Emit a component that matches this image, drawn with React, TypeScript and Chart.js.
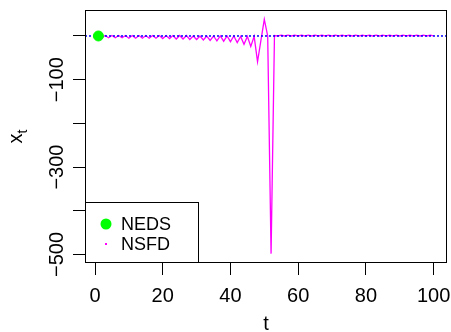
import React, { useEffect, useRef } from 'react';
import { Chart, registerables } from 'chart.js';

Chart.register(...registerables);

// time index (categories)
const tValues: number[] = Array.from({ length: 100 }, (_, i) => i + 1);

// NSFD trajectory
const nsfdValues: number[] = [
  0, -4, 1, -4, 1, -4, 1, -4, 1, -5,
  1, -5, 1, -5, 1, -5, 1, -5, 1, -6,
  1, -6, 1, -7, 1, -7, 1, -8, 0, -8,
  0, -9, 0, -10, 0, -11, 0, -12, 0, -13,
  0, -15, -1, -19, -1, -24, -1, -59, -10, 38,
  0, -498, 1, 0, 2, 0, 2, 0, 2, 0,
  2, 0, 2, 0, 2, 0, 2, 0, 2, 0,
  2, 0, 2, 0, 2, 0, 2, 0, 2, 0,
  2, 0, 2, 0, 2, 0, 2, 0, 2, 0,
  2, 0, 2, 0, 2, 0, 2, 0, 2, 0,
];

// NEDS point
const nedsT: number[] = [1];
const nedsValues: number[] = [0];

// equilibrium reference line
const equilibrium = 0;

const xLimits: number[] = [-2.96, 103.96];
const yLimits: number[] = [-519.44, 59.44];
const xTicks: number[] = [0, 20, 40, 60, 80, 100];
const xTickLabels: string[] = ['0', '20', '40', '60', '80', '100'];
const yTicks: number[] = [0, -100, -200, -300, -400, -500];
const yTickLabels: string[] = ['', '−100', '', '−300', '', '−500'];
const seriesLabels: string[] = ['NEDS', 'NSFD'];
const xTitle = 't';
const yTitleMain = 'x';
const yTitleSub = 't';

const FONT = '"Liberation Sans", Arial, Helvetica, sans-serif';

const decorPlugin = {
  id: 'decor',
  afterDraw(chart: any) {
    const { ctx, chartArea: a, scales } = chart;
    ctx.save();
    // plot frame
    ctx.strokeStyle = '#000';
    ctx.lineWidth = 1;
    const L = Math.round(a.left) + 0.5;
    const T = Math.round(a.top) + 0.5;
    const R = Math.round(a.right) - 0.5;
    const B = Math.round(a.bottom) - 0.5;
    ctx.strokeRect(L, T, R - L, B - T);

    // y tick labels (rotated, R style)
    const ys = scales.y;
    ctx.fillStyle = '#000';
    ctx.font = `20px ${FONT}`;
    ctx.textAlign = 'center';
    ctx.textBaseline = 'alphabetic';
    yTicks.forEach((v, i) => {
      const lbl = yTickLabels[i];
      if (!lbl) return;
      const py = ys.getPixelForValue(v);
      ctx.save();
      ctx.translate(63, py);
      ctx.rotate(-Math.PI / 2);
      ctx.fillText(lbl, 0, 0);
      ctx.restore();
    });

    // y title x_t
    const cy = (a.top + a.bottom) / 2;
    ctx.font = `20px ${FONT}`;
    const wMain = ctx.measureText(yTitleMain).width;
    ctx.font = `14px ${FONT}`;
    const wSub = ctx.measureText(yTitleSub).width;
    const total = wMain + wSub;
    ctx.save();
    ctx.translate(22, cy);
    ctx.rotate(-Math.PI / 2);
    ctx.textAlign = 'left';
    ctx.font = `20px ${FONT}`;
    ctx.fillText(yTitleMain, -total / 2, 0);
    ctx.font = `14px ${FONT}`;
    ctx.fillText(yTitleSub, -total / 2 + wMain, 5);
    ctx.restore();

    // x title
    ctx.font = `20px ${FONT}`;
    ctx.textAlign = 'center';
    ctx.textBaseline = 'alphabetic';
    ctx.fillText(xTitle, (a.left + a.right) / 2, 330);

    // legend (bottom-left)
    const ds = chart.data.datasets;
    const neds = ds.find((d: any) => d.label === seriesLabels[0]);
    const nsfd = ds.find((d: any) => d.label === seriesLabels[1]);
    const lx = Math.round(a.left) + 0.5;
    const lb = Math.round(a.bottom) - 0.5;
    ctx.strokeRect(lx, lb - 60, 113, 60);
    ctx.fillStyle = neds.backgroundColor;
    ctx.beginPath();
    ctx.arc(a.left + 21, a.bottom - 39, 5.5, 0, Math.PI * 2);
    ctx.fill();
    ctx.fillStyle = nsfd.borderColor;
    ctx.fillRect(a.left + 20, a.bottom - 20, 2, 2);
    ctx.fillStyle = '#000';
    ctx.font = `18px ${FONT}`;
    ctx.textAlign = 'left';
    ctx.textBaseline = 'middle';
    ctx.fillText(neds.label, a.left + 36, a.bottom - 38);
    ctx.fillText(nsfd.label, a.left + 36, a.bottom - 18);
    ctx.restore();
  },
};

export default function App() {
  const ref = useRef<HTMLCanvasElement | null>(null);
  useEffect(() => {
    if (!ref.current) return;
    const chart = new Chart(ref.current, {
      type: 'line',
      data: {
        datasets: [
          {
            label: seriesLabels[0],
            data: nedsT.map((t, i) => ({ x: t, y: nedsValues[i] })),
            showLine: false,
            pointRadius: 5,
            pointBorderWidth: 1,
            backgroundColor: '#00FF00',
            borderColor: '#00FF00',
            order: 0,
          },
          {
            label: 'equilibrium',
            data: [
              { x: xLimits[0], y: equilibrium },
              { x: xLimits[1], y: equilibrium },
            ],
            borderColor: '#0000FF',
            borderWidth: 1.5,
            borderDash: [2, 2],
            pointRadius: 0,
            fill: false,
            order: 1,
          },
          {
            label: seriesLabels[1],
            data: tValues.map((t, i) => ({ x: t, y: nsfdValues[i] })),
            borderColor: '#FF00FF',
            backgroundColor: '#FF00FF',
            borderWidth: 1.3,
            pointRadius: 0,
            tension: 0,
            fill: false,
            order: 2,
          },
        ],
      },
      options: {
        animation: false,
        responsive: true,
        maintainAspectRatio: false,
        layout: { autoPadding: false, padding: { left: 0, top: 10, right: 4, bottom: 0 } },
        plugins: {
          legend: { display: false },
          tooltip: { enabled: false },
        },
        scales: {
          x: {
            type: 'linear',
            min: xLimits[0],
            max: xLimits[1],
            afterBuildTicks: (s: any) => {
              s.ticks = xTicks.map((v) => ({ value: v }));
            },
            afterFit: (s: any) => {
              s.height = 69;
              s.paddingLeft = 0;
              s.paddingRight = 0;
            },
            ticks: {
              autoSkip: false,
              maxRotation: 0,
              padding: 9,
              color: '#000',
              font: { family: FONT, size: 20 },
              callback: (v: any) => {
                const i = xTicks.indexOf(Number(v));
                return i >= 0 ? xTickLabels[i] : '';
              },
            },
            grid: {
              drawOnChartArea: false,
              drawTicks: true,
              tickLength: 12,
              tickColor: '#000',
              tickWidth: 1,
            },
            border: { display: false },
          },
          y: {
            type: 'linear',
            min: yLimits[0],
            max: yLimits[1],
            afterBuildTicks: (s: any) => {
              s.ticks = yTicks.map((v) => ({ value: v }));
            },
            afterFit: (s: any) => {
              s.width = 85;
              s.paddingTop = 0;
              s.paddingBottom = 0;
            },
            ticks: { display: false },
            grid: {
              drawOnChartArea: false,
              drawTicks: true,
              tickLength: 12,
              tickColor: '#000',
              tickWidth: 1,
            },
            border: { display: false },
          },
        },
      },
      plugins: [decorPlugin],
    });
    return () => chart.destroy();
  }, []);
  return (
    <div style={{ position: 'fixed', left: 0, top: 0, width: 451, height: 332, background: '#fff' }}>
      <canvas ref={ref} />
    </div>
  );
}
